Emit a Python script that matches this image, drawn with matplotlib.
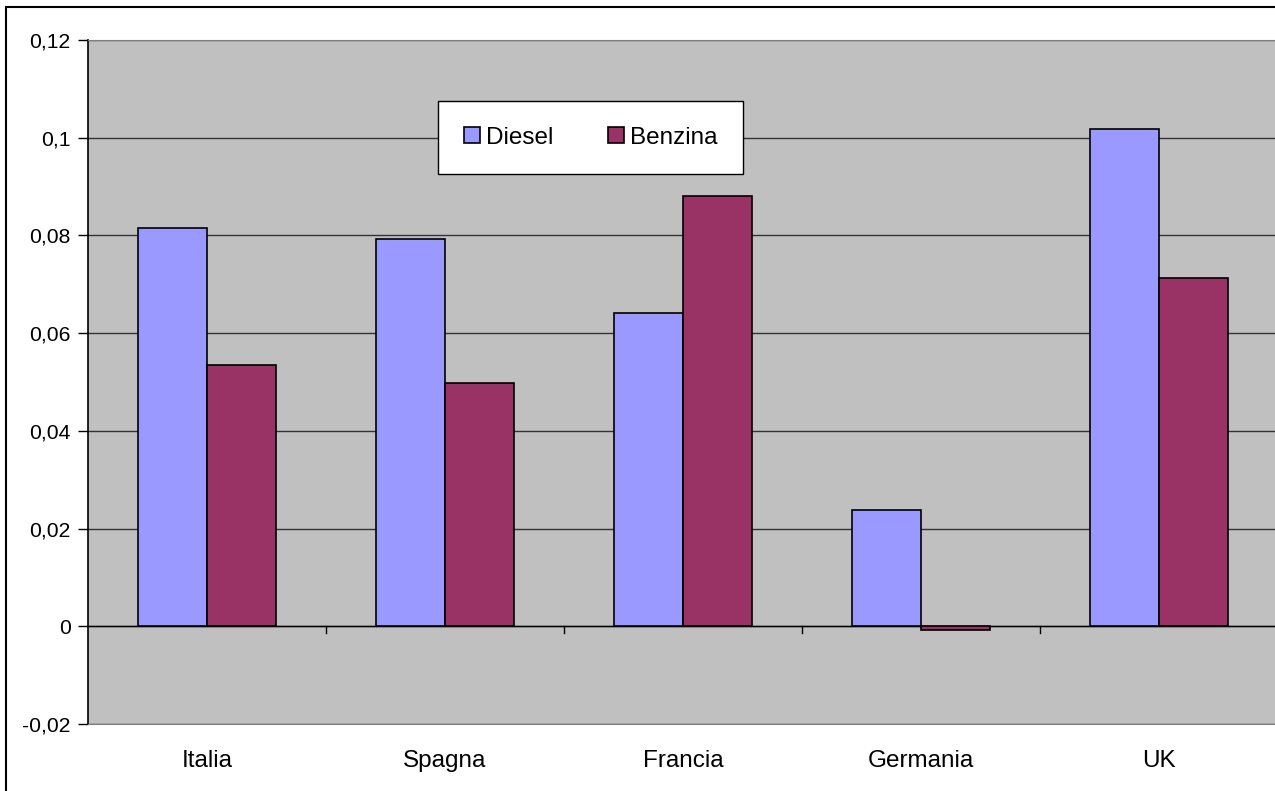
import numpy as np
import matplotlib.pyplot as plt
from matplotlib.ticker import FuncFormatter

# Dati
paesi = ["Italia", "Spagna", "Francia", "Germania", "UK"]
diesel = [0.0816, 0.0793, 0.0641, 0.0238, 0.1018]
benzina = [0.0534, 0.0497, 0.0881, -0.0008, 0.0713]

plt.rcParams['font.family'] = ['Liberation Sans', 'DejaVu Sans']

fig = plt.figure(figsize=(12.75, 7.91), dpi=100)
ax = fig.add_axes([88/1275, 67/791, 1190/1275, 684/791])
ax.set_facecolor('#C0C0C0')

x = np.arange(len(paesi))
w = 0.288
ax.bar(x - w/2, diesel, w, color='#9999FF', edgecolor='black', linewidth=1.2, label='Diesel', zorder=3)
ax.bar(x + w/2, benzina, w, color='#993366', edgecolor='black', linewidth=1.2, label='Benzina', zorder=3)

ax.set_xlim(-0.5, len(paesi) - 0.5)
ax.set_ylim(-0.02, 0.12)
ax.set_yticks(np.arange(-0.02, 0.1201, 0.02))
ax.yaxis.set_major_formatter(FuncFormatter(lambda v, p: f"{v:.2f}".rstrip('0').rstrip(',').replace('.', ',') if abs(v) > 1e-9 else "0"))
ax.yaxis.grid(True, color='#333333', linewidth=1, zorder=1)
ax.tick_params(axis='y', direction='out', length=7, width=1, labelsize=15.2, pad=5.5)

# asse delle categorie sullo zero
ax.axhline(0, color='black', linewidth=1, zorder=2)
ax.set_xticks(x)
ax.set_xticklabels(paesi, fontsize=17.5)
ax.tick_params(axis='x', length=0, pad=19)
for b in np.arange(0.5, len(paesi) - 0.5, 1):
    ax.plot([b, b], [0, -0.0013], color='black', linewidth=1, zorder=2, clip_on=False)

for s in ['top', 'right', 'bottom']:
    ax.spines[s].set_color('#808080')
ax.spines['left'].set_color('black')
ax.spines['left'].set_linewidth(1.2)

leg = ax.legend(loc='upper left', bbox_to_anchor=((438-88)/1190, (724-101)/684), ncol=2,
                fontsize=17.5, frameon=True, fancybox=False, shadow=False,
                handlelength=0.66, handleheight=0.66, handletextpad=0.25, columnspacing=2.25,
                borderpad=1.05, borderaxespad=0)
leg.get_frame().set_edgecolor('black')
leg.get_frame().set_linewidth(1)
leg.get_frame().set_facecolor('white')
leg.get_frame().set_alpha(1)

# bordo esterno del grafico
fig.patches.append(plt.Rectangle((6/1275, -0.01), 1.02, 1 - 7/791 + 0.01, transform=fig.transFigure,
                                 fill=False, edgecolor='black', linewidth=1.5))

fig.savefig('out.png', dpi=100)
